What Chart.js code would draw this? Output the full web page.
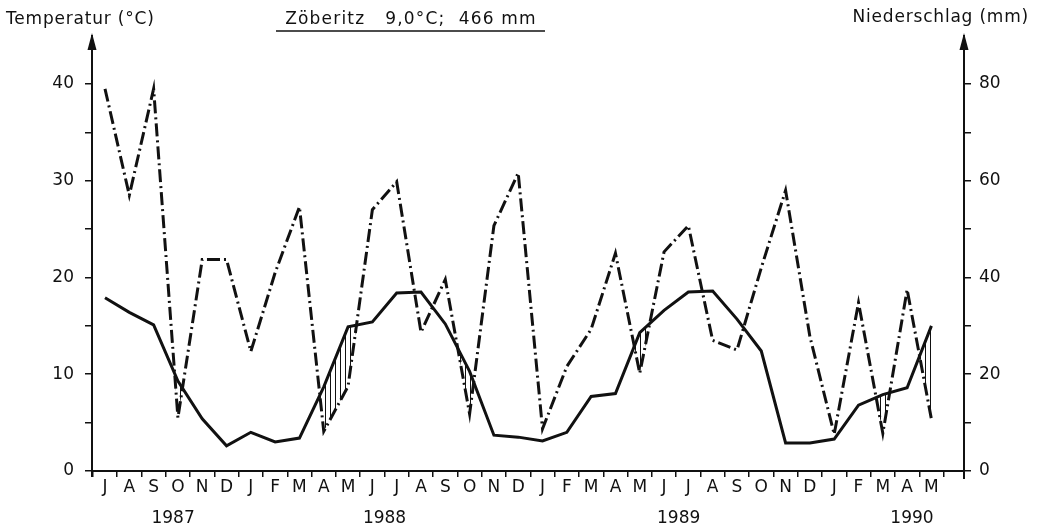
<!DOCTYPE html>
<html>
<head>
<meta charset="utf-8">
<title>Zöberitz Klimadiagramm</title>
<script src="https://cdn.jsdelivr.net/npm/chart.js@4.4.1/dist/chart.umd.min.js"></script>
<style>
  html, body { margin: 0; padding: 0; background: #fff; }
  #wrap { position: relative; width: 1038px; height: 529px; }
</style>
</head>
<body>
<div id="wrap"><canvas id="klima"></canvas></div>
<script>
// Zöberitz climate diagram, Jul 1987 - May 1990.
// Temperature (°C, left) is the solid line, precipitation (mm, right) the dash-dot line.
// Precip scale is 2x the temperature scale; the original hatches some of the dry months.

const months = ['J', 'A', 'S', 'O', 'N', 'D',
  'J', 'F', 'M', 'A', 'M', 'J', 'J', 'A', 'S', 'O', 'N', 'D',
  'J', 'F', 'M', 'A', 'M', 'J', 'J', 'A', 'S', 'O', 'N', 'D',
  'J', 'F', 'M', 'A', 'M'];

const temperature = [17.9, 16.4, 15.1, 9.3, 5.4, 2.6,
  4.0, 3.0, 3.4, 8.7, 14.9, 15.4, 18.4, 18.5, 15.2, 10.3, 3.7, 3.5,
  3.1, 4.0, 7.7, 8.0, 14.3, 16.6, 18.5, 18.6, 15.7, 12.4, 2.9, 2.9,
  3.3, 6.8, 7.9, 8.6, 15.0];

const precipitation = [79, 57, 79, 11, 43.7, 43.7,
  24.7, 41, 54.6, 8.2, 17.5, 54, 59.8, 28.7, 39.6, 11.8, 50.7, 61.6,
  8.7, 21.6, 29.3, 45, 20.2, 45.3, 50.7, 27, 25, 42, 58, 27.8,
  7.6, 34.8, 7.8, 37.5, 10.7];

// months the original hatches (A-S 1989 is dry too but left blank there)
const hatchedMonths = [3, 9, 10, 15, 22, 32, 34];

const years = ['1987', '1988', '1989', '1990'];
const yearAt = [2.8, 11.5, 23.6, 33.2]; // month index the year label sits under

const tempTicks = [0, 10, 20, 30, 40];
const precTicks = [0, 20, 40, 60, 80];

const titleText = 'Zöberitz   9,0°C;  466 mm';
const tempLabel = 'Temperatur (°C)';
const precLabel = 'Niederschlag (mm)';

const FONT = "'DejaVu Sans', sans-serif";
const INK = '#111';
const NONE = 'rgba(0,0,0,0)';

// --- vertical hatching for the dry periods ---
function makeHatch() {
  const c = document.createElement('canvas');
  c.width = 5;
  c.height = 5;
  const g = c.getContext('2d');
  g.fillStyle = INK;
  g.fillRect(0, 0, 1, 5);
  return g.createPattern(c, 'repeat');
}

// precip points around each hatched month; the fill only shows where precip < 2*T
const hatchData = precipitation.map((p, i) =>
  ({ x: i, y: hatchedMonths.some(m => Math.abs(m - i) <= 1) ? p : null }));

// --- arrows, headings, title ---
const decor = {
  id: 'decor',
  afterDraw(chart) {
    const { ctx, chartArea: a } = chart;
    ctx.save();
    ctx.fillStyle = INK;
    ctx.strokeStyle = INK;

    [a.left, a.right].forEach(x => {
      ctx.beginPath();
      ctx.moveTo(x, 33);
      ctx.lineTo(x - 4.5, 50);
      ctx.lineTo(x + 4.5, 50);
      ctx.closePath();
      ctx.fill();
    });

    // axis stubs below zero
    ctx.lineWidth = 2;
    ctx.beginPath();
    ctx.moveTo(a.left, a.bottom);
    ctx.lineTo(a.left, a.bottom + 6);
    ctx.moveTo(a.right, a.bottom);
    ctx.lineTo(a.right, a.bottom + 8);
    ctx.stroke();

    ctx.font = '17px ' + FONT;
    ctx.textBaseline = 'middle';
    ctx.letterSpacing = '0.8px';
    ctx.textAlign = 'left';
    ctx.fillText(tempLabel, 6, 20);
    ctx.textAlign = 'right';
    ctx.fillText(precLabel, 1029, 18);
    ctx.letterSpacing = '1.2px';
    ctx.textAlign = 'center';
    ctx.fillText(titleText, 411, 20);

    ctx.lineWidth = 1.5;
    ctx.beginPath();
    ctx.moveTo(276, 31);
    ctx.lineTo(545, 31);
    ctx.stroke();
    ctx.restore();
  }
};

const tickFont = { family: FONT, size: 17 };

function stepTicks(scale, step) {
  scale.ticks = [];
  for (let v = scale.min; v <= scale.max; v += step) scale.ticks.push({ value: v });
}

new Chart(document.getElementById('klima'), {
  type: 'line',
  data: {
    datasets: [{
      label: 'Temperatur',
      data: temperature.map((t, i) => ({ x: i, y: t })),
      xAxisID: 'x',
      yAxisID: 'y',
      borderColor: INK,
      borderWidth: 3,
      pointRadius: 0,
      tension: 0,
      fill: false,
    }, {
      label: 'Niederschlag',
      data: precipitation.map((p, i) => ({ x: i, y: p })),
      xAxisID: 'x',
      yAxisID: 'y2',
      borderColor: INK,
      borderWidth: 3,
      borderDash: [13, 4, 2, 4],
      pointRadius: 0,
      tension: 0,
      fill: false,
    }, {
      label: 'Trockenzeit',
      data: hatchData,
      xAxisID: 'x',
      yAxisID: 'y2',
      borderColor: NONE,
      borderWidth: 0,
      pointRadius: 0,
      tension: 0,
      spanGaps: false,
      fill: { target: 0, above: NONE, below: makeHatch() },
    }],
  },
  options: {
    responsive: true,
    maintainAspectRatio: false,
    animation: false,
    layout: { padding: { top: 35.6, left: 0, right: 0, bottom: 0 } },
    plugins: { legend: { display: false }, tooltip: { enabled: false } },
    scales: {
      x: {
        type: 'linear',
        position: 'bottom',
        weight: 0,
        min: -0.535,
        max: 35.34,
        afterFit: s => { s.height = 32; },
        afterBuildTicks: s => {
          s.ticks = [];
          for (let v = -0.5; v <= months.length - 0.5; v += 0.5) s.ticks.push({ value: v });
        },
        ticks: {
          autoSkip: false,
          maxRotation: 0,
          padding: 0,
          color: INK,
          font: tickFont,
          callback: v => (Number.isInteger(v) ? months[v] : ''),
        },
        grid: {
          drawOnChartArea: false,
          tickLength: 6,
          lineWidth: 1.5,
          tickColor: c => (c.tick && Number.isInteger(c.tick.value) ? NONE : INK),
        },
        border: { color: INK, width: 2 },
      },
      xYear: {
        type: 'linear',
        position: 'bottom',
        weight: 1,
        min: -0.535,
        max: 35.34,
        afterFit: s => { s.height = 26; },
        afterBuildTicks: s => { s.ticks = yearAt.map(v => ({ value: v })); },
        ticks: {
          autoSkip: false,
          maxRotation: 0,
          padding: 5,
          color: INK,
          font: tickFont,
          callback: (v, i) => years[i],
        },
        grid: { display: false, drawTicks: false },
        border: { display: false },
      },
      y: {
        position: 'left',
        min: 0,
        max: 45,
        afterFit: s => { s.width = 92; },
        afterBuildTicks: s => stepTicks(s, 5),
        ticks: {
          padding: 11,
          color: INK,
          font: tickFont,
          callback: v => (tempTicks.includes(v) ? v : ''),
        },
        grid: {
          drawOnChartArea: false,
          tickLength: 7,
          lineWidth: 1.5,
          tickColor: c => (c.tick && c.tick.value >= 45 ? NONE : INK),
        },
        border: { color: INK, width: 2 },
      },
      y2: {
        position: 'right',
        min: 0,
        max: 90,
        afterFit: s => { s.width = 74; },
        afterBuildTicks: s => stepTicks(s, 10),
        ticks: {
          padding: 8,
          color: INK,
          font: tickFont,
          callback: v => (precTicks.includes(v) ? v : ''),
        },
        grid: {
          drawOnChartArea: false,
          tickLength: 7,
          lineWidth: 1.5,
          tickColor: c => (c.tick && c.tick.value >= 90 ? NONE : INK),
        },
        border: { color: INK, width: 2 },
      },
    },
  },
  plugins: [decor],
});
</script>
</body>
</html>
